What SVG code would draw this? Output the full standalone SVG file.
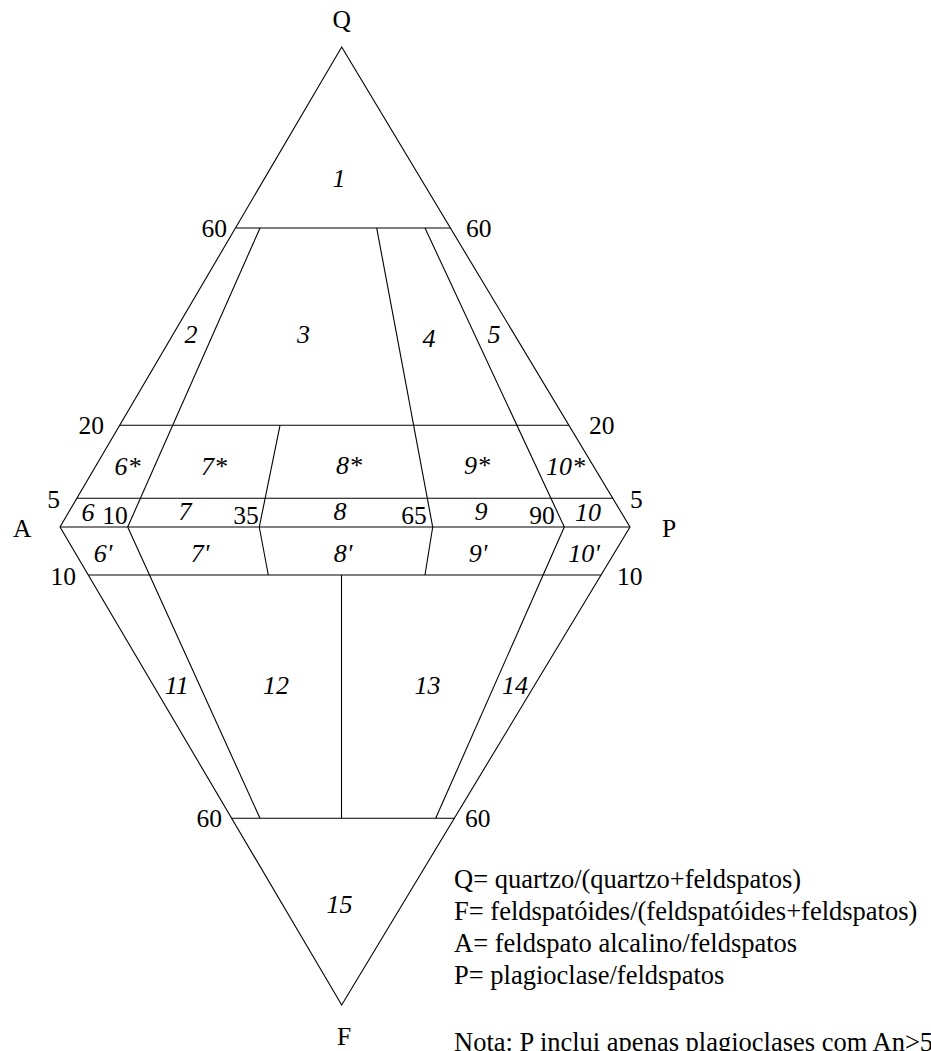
<svg xmlns="http://www.w3.org/2000/svg" width="931" height="1051" viewBox="0 0 931 1051">
<style>
.ln{stroke:#000;stroke-width:1.1;fill:none;stroke-linecap:butt}
text{font-family:"Liberation Serif","Times New Roman",serif;fill:#000}
.v{font-size:25.5px}
.f{font-size:26px;font-style:italic;text-anchor:middle}
.lg{font-size:26.5px}
</style>
<rect width="931" height="1051" fill="#fff"/>
<g id="connectors">
<polygon class="ln" points="341.7,47 630,527 341.7,1005 60,527"/>
<line class="ln" x1="235.7" y1="228" x2="450.4" y2="228"/>
<line class="ln" x1="119.5" y1="425.3" x2="569" y2="425.3"/>
<line class="ln" x1="76.8" y1="498.3" x2="612.8" y2="498.3"/>
<line class="ln" x1="60" y1="527" x2="630" y2="527"/>
<line class="ln" x1="88.3" y1="575" x2="601" y2="575"/>
<line class="ln" x1="231.7" y1="818.3" x2="454.3" y2="818.3"/>
<line class="ln" x1="260" y1="228" x2="127.7" y2="527"/>
<line class="ln" x1="376.7" y1="228" x2="432.7" y2="527"/>
<line class="ln" x1="425" y1="228" x2="564.3" y2="527"/>
<line class="ln" x1="280" y1="425.3" x2="259.3" y2="527"/>
<line class="ln" x1="127.7" y1="527" x2="260" y2="818.3"/>
<line class="ln" x1="259.3" y1="527" x2="268.3" y2="575"/>
<line class="ln" x1="432.7" y1="527" x2="425" y2="575"/>
<line class="ln" x1="564.3" y1="527" x2="435.7" y2="818.3"/>
<line class="ln" x1="341.5" y1="575" x2="341.5" y2="818.3"/>
</g>
<g id="vertices">
<text class="v" x="341.7" y="28" text-anchor="middle">Q</text>
<text class="v" x="13" y="537">A</text>
<text class="v" x="662" y="537">P</text>
<text class="v" x="344" y="1045" text-anchor="middle">F</text>
</g>
<g id="scale">
<text class="v" x="227" y="237" text-anchor="end">60</text>
<text class="v" x="466" y="237">60</text>
<text class="v" x="104" y="434" text-anchor="end">20</text>
<text class="v" x="589" y="434">20</text>
<text class="v" x="60" y="508" text-anchor="end">5</text>
<text class="v" x="630" y="508">5</text>
<text class="v" x="76" y="585" text-anchor="end">10</text>
<text class="v" x="617" y="585">10</text>
<text class="v" x="222" y="827" text-anchor="end">60</text>
<text class="v" x="465" y="827">60</text>
<text class="v" x="115" y="524" text-anchor="middle">10</text>
<text class="v" x="246" y="524" text-anchor="middle">35</text>
<text class="v" x="414" y="524" text-anchor="middle">65</text>
<text class="v" x="542" y="524" text-anchor="middle">90</text>
</g>
<g id="fields">
<text class="f" x="339" y="187">1</text>
<text class="f" x="191" y="343">2</text>
<text class="f" x="303.5" y="343">3</text>
<text class="f" x="429" y="346.5">4</text>
<text class="f" x="494" y="343">5</text>
<text class="f" x="127.5" y="475">6*</text>
<text class="f" x="214" y="475">7*</text>
<text class="f" x="349" y="474">8*</text>
<text class="f" x="477" y="474">9*</text>
<text class="f" x="565.5" y="475">10*</text>
<text class="f" x="88" y="521">6</text>
<text class="f" x="185" y="520">7</text>
<text class="f" x="340" y="520">8</text>
<text class="f" x="481" y="520">9</text>
<text class="f" x="588" y="521">10</text>
<text class="f" x="103" y="561.5">6'</text>
<text class="f" x="200" y="562">7'</text>
<text class="f" x="343" y="561.5">8'</text>
<text class="f" x="478" y="562">9'</text>
<text class="f" x="584" y="561.5">10'</text>
<text class="f" x="176.7" y="694">11</text>
<text class="f" x="276" y="694">12</text>
<text class="f" x="427.5" y="694">13</text>
<text class="f" x="515" y="694">14</text>
<text class="f" x="339.5" y="913">15</text>
</g>
<g id="legend">
<text class="lg" x="454" y="888">Q= quartzo/(quartzo+feldspatos)</text>
<text class="lg" x="454" y="920">F= feldspatóides/(feldspatóides+feldspatos)</text>
<text class="lg" x="454" y="952">A= feldspato alcalino/feldspatos</text>
<text class="lg" x="454" y="984">P= plagioclase/feldspatos</text>
<text class="lg" x="454" y="1051">Nota: P inclui apenas plagioclases com An&gt;5</text>
</g>
</svg>
